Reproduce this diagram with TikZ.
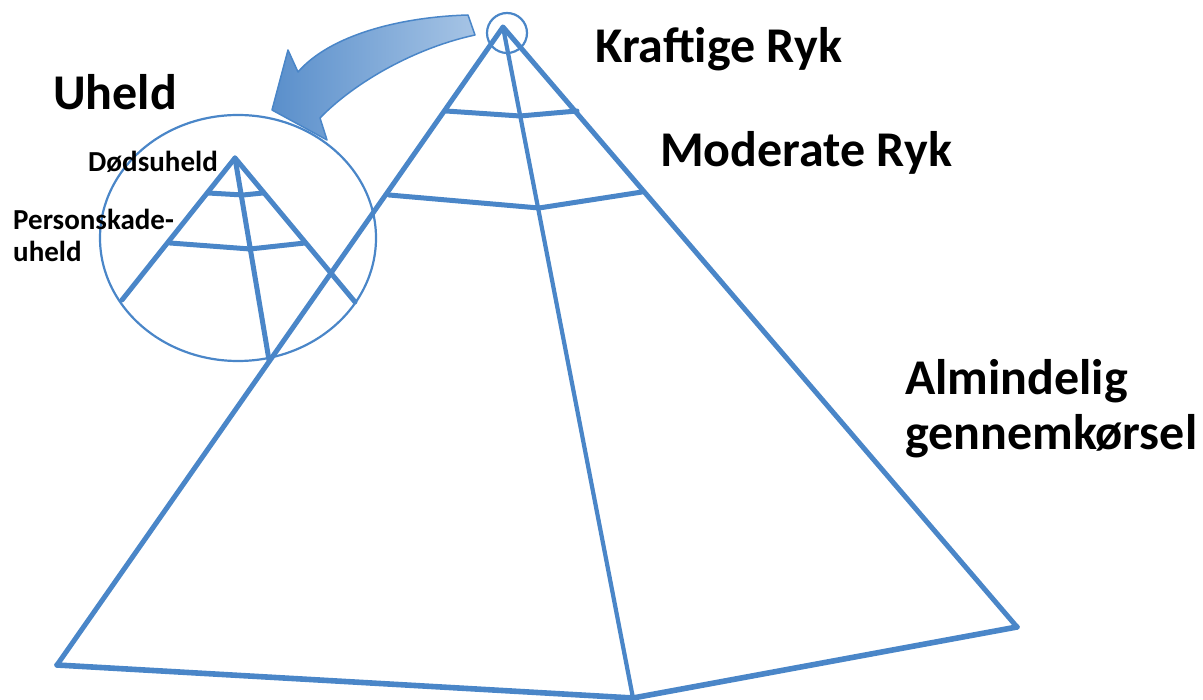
\documentclass[tikz,border=0pt]{standalone}
\usepackage{fontspec}
\setmainfont{Carlito}
\usepackage{tikz}
\usetikzlibrary{calc}
\definecolor{pyrblue}{HTML}{4A86C8}
\definecolor{arrowdark}{HTML}{5A8FCB}
\definecolor{arrowlight}{HTML}{A6C4E5}

\begin{document}
\begin{tikzpicture}[x=1pt,y=-1pt,
    edge/.style={pyrblue,line width=5pt,line join=round,line cap=round},
    ring/.style={pyrblue,line width=2.2pt},
    biglbl/.style={font=\fontsize{50}{55}\selectfont\bfseries,inner sep=0pt,anchor=base west,align=left},
    smalllbl/.style={font=\fontsize{29}{32}\selectfont\bfseries,inner sep=0pt,anchor=base west,align=left}]

  \useasboundingbox (0,0) rectangle (1203,700);

  % ---- Big pyramid ----------------------------------------------
  \coordinate (top) at (503,27);
  \coordinate (left) at (57,665);
  \coordinate (front) at (633,698);
  \coordinate (right) at (1017,627);
  \draw[edge] (left) -- (top) -- (right);
  \draw[edge,line width=4.2pt] (top) -- (front);
  \draw[edge,line width=5.6pt] (left) -- (front) -- (right);
  % bands
  \draw[edge] (446,111) -- (520,116) -- (577,111);
  \draw[edge] (389,195) -- (539,208) -- (642,192);
  % ring at the apex
  \draw[ring] (507,33) circle (20);

  % ---- Zoomed pyramid (left) ------------------------------------
  \draw[ring] (238,238) ellipse [x radius=138, y radius=123];
  \coordinate (stop) at (235,158);
  \draw[edge] (122,300) -- (stop) -- (355,302);
  \draw[edge] (stop) -- (269,360);
  \draw[edge] (208,193) -- (243,195) -- (263,193);
  \draw[edge] (170,243) -- (250,249) -- (305,243);

  % ---- Curved arrow ---------------------------------------------
  \draw[pyrblue,line width=1.5pt,line join=round,
        left color=arrowdark,right color=arrowlight]
    (468,15) .. controls (400,17) and (330,35) .. (298,72)
    -- (288,50) -- (272,110) -- (327,140) -- (320,118)
    .. controls (355,82) and (415,48) .. (475,35) -- cycle;

  % ---- Labels ---------------------------------------------------
  \node[biglbl] (kraftige) at (595,63) {Kraftige Ryk};
  \node[biglbl] (moderate) at (660,167) {Moderate Ryk};
  \node[biglbl] (alm) at (905,450) {Almindelig\\gennemkørsel};
  \node[biglbl] (uheld) at (53,110) {Uheld};
  \node[smalllbl] (doed) at (88,172) {Dødsuheld};
  \node[smalllbl] (person) at (13,262) {Personskade-\\uheld};

\end{tikzpicture}
\end{document}
